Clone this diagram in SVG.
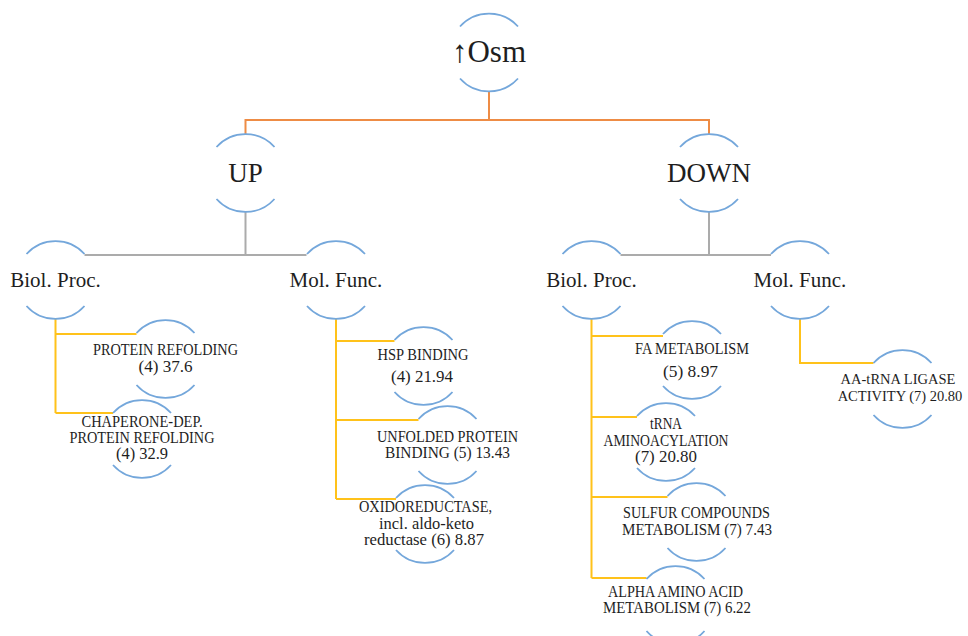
<svg xmlns="http://www.w3.org/2000/svg" xmlns:xlink="http://www.w3.org/1999/xlink" width="968" height="636" viewBox="0 0 968 636">
<style>
.ring{fill:none;stroke:#74A7DB;stroke-width:1.8}
.c-or{fill:none;stroke:#EE8C45;stroke-width:2}
.c-gr{fill:none;stroke:#ABABAB;stroke-width:2}
.c-ye{fill:none;stroke:#FFC21A;stroke-width:2}
text{font-family:"Liberation Serif","DejaVu Serif",serif;fill:#1e1e1e;text-anchor:middle}
.t0{font-size:31px}
.t1{font-size:27px}
.t2{font-size:21px}
.t3{font-size:16px}
.t4{font-size:14.5px}
</style>
<defs>
<path id="ring" class="ring" d="M-29 -26 A39 39 0 0 1 29 -26 M-29 26 A39 39 0 0 0 29 26"/>
</defs>
<rect width="968" height="636" fill="#fff"/>
<g id="connectors">
<path class="c-or" d="M489 91.5 V120 M245.5 134 V120 H709 V134"/>
<path class="c-gr" d="M245.5 212 V255 M84.5 255 H306.5 M709 212 V255 M620.5 255 H771"/>
<path class="c-ye" d="M55.5 319 V413 M55.5 334 H136.5 M55.5 413 H113"/>
<path class="c-ye" d="M336 319 V499 M336 341 H394.5 M336 420 H418.5 M336 499 H396"/>
<path class="c-ye" d="M591.5 319 V578 M591.5 336 H663 M591.5 417 H637 M591.5 497 H667.5 M591.5 578 H646.5"/>
<path class="c-ye" d="M800 319 V363 H873.5"/>
</g>
<g id="osm"><use xlink:href="#ring" x="489" y="52.5"/><text class="t0" x="489" y="62">↑Osm</text></g>
<g id="up"><use xlink:href="#ring" x="245.5" y="173"/><text class="t1" x="245.5" y="182">UP</text></g>
<g id="down"><use xlink:href="#ring" x="709" y="173"/><text class="t1" x="709" y="182">DOWN</text></g>
<g id="up-bp"><use xlink:href="#ring" x="55.5" y="280"/><text class="t2" x="55.5" y="287">Biol. Proc.</text></g>
<g id="up-mf"><use xlink:href="#ring" x="336" y="280"/><text class="t2" x="336" y="287">Mol. Func.</text></g>
<g id="down-bp"><use xlink:href="#ring" x="591.5" y="280"/><text class="t2" x="591.5" y="287">Biol. Proc.</text></g>
<g id="down-mf"><use xlink:href="#ring" x="800" y="280"/><text class="t2" x="800" y="287">Mol. Func.</text></g>
<g id="protein-refolding"><use xlink:href="#ring" x="165.5" y="359"/><text class="t3" x="165.5" y="355" textLength="145" lengthAdjust="spacingAndGlyphs">PROTEIN REFOLDING</text><text class="t3" x="165.5" y="372" textLength="54" lengthAdjust="spacingAndGlyphs">(4) 37.6</text></g>
<g id="chaperone"><use xlink:href="#ring" x="142" y="439"/><text class="t3" x="142" y="427" textLength="121" lengthAdjust="spacingAndGlyphs">CHAPERONE-DEP.</text><text class="t3" x="142" y="443" textLength="145" lengthAdjust="spacingAndGlyphs">PROTEIN REFOLDING</text><text class="t3" x="142" y="459" textLength="52" lengthAdjust="spacingAndGlyphs">(4) 32.9</text></g>
<g id="hsp"><use xlink:href="#ring" x="423.5" y="366"/><text class="t3" x="423" y="360" textLength="91" lengthAdjust="spacingAndGlyphs">HSP BINDING</text><text class="t3" x="422" y="382" textLength="62" lengthAdjust="spacingAndGlyphs">(4) 21.94</text></g>
<g id="unfolded"><use xlink:href="#ring" x="447.5" y="445"/><text class="t3" x="447.5" y="442" textLength="141" lengthAdjust="spacingAndGlyphs">UNFOLDED PROTEIN</text><text class="t3" x="447.5" y="458" textLength="125" lengthAdjust="spacingAndGlyphs">BINDING (5) 13.43</text></g>
<g id="oxido"><use xlink:href="#ring" x="425" y="524"/><text class="t3" x="425.5" y="512" textLength="133" lengthAdjust="spacingAndGlyphs">OXIDOREDUCTASE,</text><text class="t3" x="426.5" y="528.5" textLength="95" lengthAdjust="spacingAndGlyphs">incl. aldo-keto</text><text class="t3" x="424" y="545" textLength="120" lengthAdjust="spacingAndGlyphs">reductase (6) 8.87</text></g>
<g id="fa"><use xlink:href="#ring" x="692" y="360"/><text class="t3" x="692" y="354" textLength="114" lengthAdjust="spacingAndGlyphs">FA METABOLISM</text><text class="t3" x="690.5" y="377" textLength="55" lengthAdjust="spacingAndGlyphs">(5) 8.97</text></g>
<g id="trna"><use xlink:href="#ring" x="666" y="442"/><text class="t3" x="666" y="429" textLength="32" lengthAdjust="spacingAndGlyphs">tRNA</text><text class="t3" x="666" y="446" textLength="125" lengthAdjust="spacingAndGlyphs">AMINOACYLATION</text><text class="t3" x="666" y="462" textLength="62" lengthAdjust="spacingAndGlyphs">(7) 20.80</text></g>
<g id="sulfur"><use xlink:href="#ring" x="696.5" y="522"/><text class="t3" x="696.5" y="518" textLength="147" lengthAdjust="spacingAndGlyphs">SULFUR COMPOUNDS</text><text class="t3" x="697" y="535" textLength="150" lengthAdjust="spacingAndGlyphs">METABOLISM (7) 7.43</text></g>
<g id="alpha"><use xlink:href="#ring" x="675.5" y="605"/><text class="t3" x="675.5" y="597" textLength="135" lengthAdjust="spacingAndGlyphs">ALPHA AMINO ACID</text><text class="t3" x="677" y="613" textLength="148" lengthAdjust="spacingAndGlyphs">METABOLISM (7) 6.22</text></g>
<g id="aa-trna"><use xlink:href="#ring" x="902.5" y="389"/><text class="t4" x="898" y="384">AA-tRNA LIGASE</text><text class="t4" x="900" y="401">ACTIVITY (7) 20.80</text></g>
</svg>
